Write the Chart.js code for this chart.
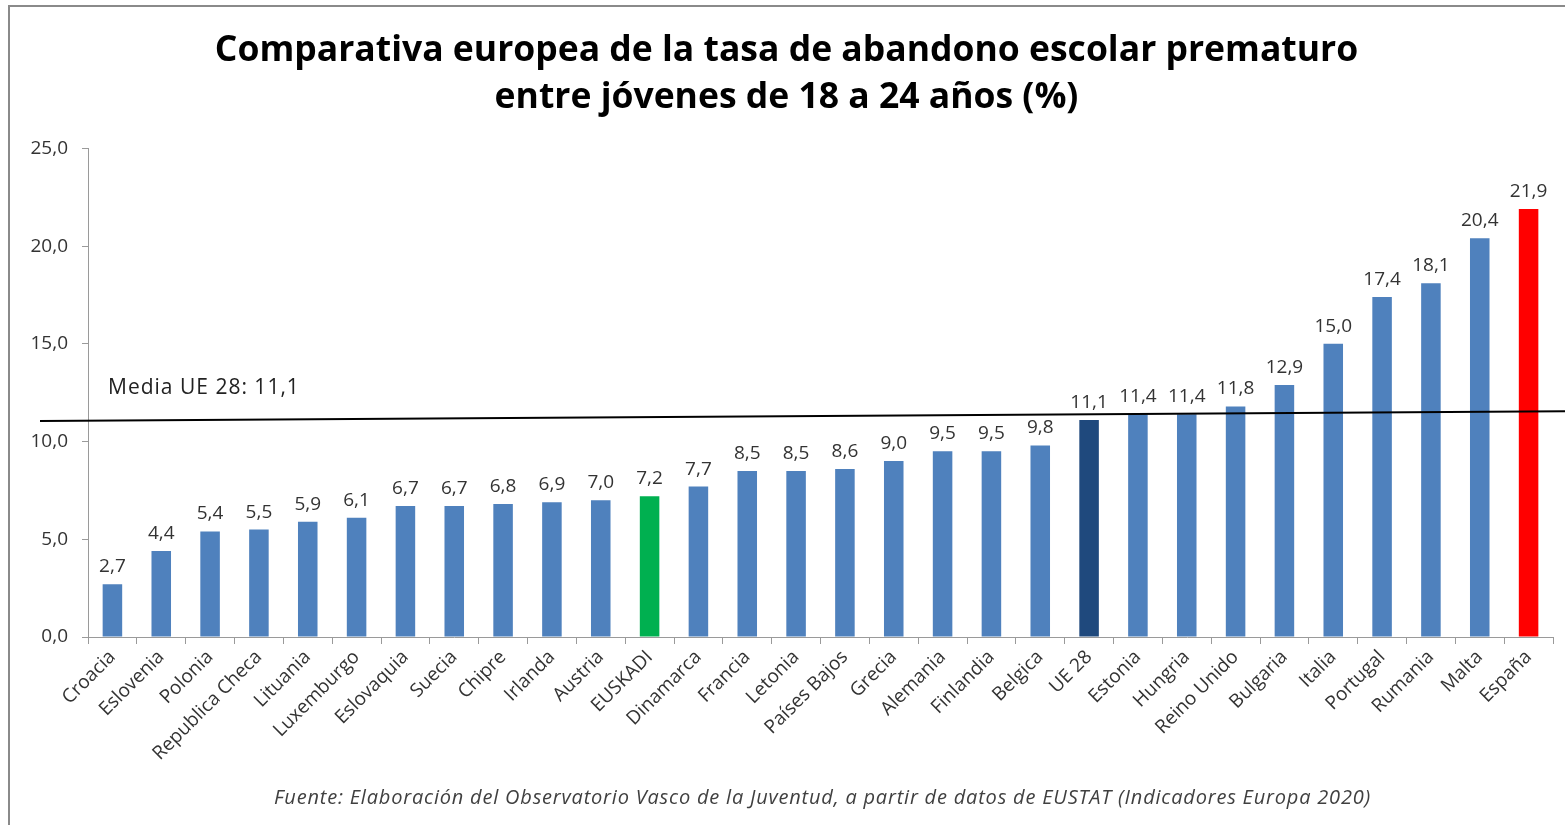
<!DOCTYPE html>
<html>
<head>
<meta charset="utf-8">
<script src="https://cdn.jsdelivr.net/npm/chart.js@4/dist/chart.umd.min.js"></script>
<style>
  body { margin: 0; background: #fff; overflow: hidden; }
  #marco { position: absolute; left: 8px; top: 5px; width: 1600px; height: 900px;
           border-top: 2px solid #8a8a8a; border-left: 2px solid #8a8a8a; pointer-events: none; }
  #wrap { position: absolute; left: 0; top: 0; width: 1565px; height: 825px; }
  #fuente { position: absolute; left: 0; width: 1645px; top: 783px; text-align: center;
            font-family: "Open Sans", sans-serif; font-style: italic; font-size: 20px;
            letter-spacing: 0.8px; color: #404040; }
</style>
</head>
<body>
<div id="marco"></div>
<div id="wrap"><canvas id="chart"></canvas></div>
<div id="fuente">Fuente: Elaboración del Observatorio Vasco de la Juventud, a partir de datos de EUSTAT (Indicadores Europa 2020)</div>
<script>
// datos
const paises = ['Croacia', 'Eslovenia', 'Polonia', 'Republica Checa', 'Lituania', 'Luxemburgo',
  'Eslovaquia', 'Suecia', 'Chipre', 'Irlanda', 'Austria', 'EUSKADI', 'Dinamarca', 'Francia',
  'Letonia', 'Países Bajos', 'Grecia', 'Alemania', 'Finlandia', 'Belgica', 'UE 28', 'Estonia',
  'Hungria', 'Reino Unido', 'Bulgaria', 'Italia', 'Portugal', 'Rumania', 'Malta', 'España'];
const tasas = [2.7, 4.4, 5.4, 5.5, 5.9, 6.1, 6.7, 6.7, 6.8, 6.9, 7.0, 7.2, 7.7, 8.5,
  8.5, 8.6, 9.0, 9.5, 9.5, 9.8, 11.1, 11.4, 11.4, 11.8, 12.9, 15.0, 17.4, 18.1, 20.4, 21.9];
const mediaUE = 11.1;
// la línea de la media está dibujada algo inclinada en el original (valor izq., valor dcha.)
const lineaMedia = [11.05, 11.55];
const ticksY = [0, 5, 10, 15, 20, 25];

// colores
const azul = '#4F81BD';
function colorBarra(p) {
  if (p === 'EUSKADI') return '#00B050';
  if (p === 'UE 28') return '#1F497D';
  if (p === 'España') return '#FF0000';
  return azul;
}
const fmt = v => v.toFixed(1).replace('.', ',');
const fuente = '"Open Sans", sans-serif';

// etiquetas encima de las barras + línea de la media
const extras = {
  id: 'extras',
  afterDatasetsDraw(chart) {
    const ctx = chart.ctx;
    const y = chart.scales.y;
    const meta = chart.getDatasetMeta(0);
    ctx.save();
    ctx.font = '19px ' + fuente;
    ctx.fillStyle = '#333';
    ctx.textAlign = 'center';
    ctx.textBaseline = 'alphabetic';
    meta.data.forEach((bar, i) => {
      ctx.fillText(fmt(tasas[i]), bar.x, bar.y - 12);
    });
    // línea media UE 28
    const x0 = 40, x1 = chart.width;
    ctx.strokeStyle = '#000';
    ctx.lineWidth = 2;
    ctx.beginPath();
    ctx.moveTo(x0, y.getPixelForValue(lineaMedia[0]));
    ctx.lineTo(x1, y.getPixelForValue(lineaMedia[1]));
    ctx.stroke();
    ctx.font = '21px ' + fuente;
    ctx.letterSpacing = '1px';
    ctx.fillStyle = '#222';
    ctx.textAlign = 'left';
    ctx.textBaseline = 'middle';
    ctx.fillText('Media UE 28: ' + fmt(mediaUE), chart.chartArea.left + 20, y.getPixelForValue(lineaMedia[0]) - 33);
    ctx.restore();
  }
};

new Chart(document.getElementById('chart'), {
  type: 'bar',
  data: {
    labels: paises,
    datasets: [{
      data: tasas,
      backgroundColor: paises.map(colorBarra),
      barPercentage: 0.4,
      categoryPercentage: 1.0
    }]
  },
  options: {
    responsive: true,
    maintainAspectRatio: false,
    animation: false,
    layout: { padding: { left: 20, right: 12, top: 0, bottom: 38 } },
    plugins: {
      legend: { display: false },
      tooltip: { enabled: false },
      title: {
        display: true,
        text: ['Comparativa europea de la tasa de abandono escolar prematuro', 'entre jóvenes de 18 a 24 años (%)'],
        font: { family: fuente, size: 35.5, weight: 'bold', lineHeight: 1.33 },
        color: '#000',
        padding: { top: 27, bottom: 27 }
      }
    },
    scales: {
      x: {
        grid: { offset: true, drawOnChartArea: false, drawTicks: true, tickLength: 7, color: '#9a9a9a' },
        border: { color: '#9a9a9a' },
        ticks: { color: '#333', font: { family: fuente, size: 19 }, minRotation: 45, maxRotation: 45, padding: 2 },
        afterFit(s) { s.height = 150; }
      },
      y: {
        min: 0, max: 25,
        afterBuildTicks(s) { s.ticks = ticksY.map(v => ({ value: v })); },
        grid: { drawOnChartArea: false, drawTicks: true, tickLength: 6, color: '#9a9a9a' },
        border: { color: '#9a9a9a' },
        ticks: { color: '#333', font: { family: fuente, size: 19 }, padding: 14, callback: v => fmt(v) },
        afterFit(s) { s.width = 68; }
      }
    }
  },
  plugins: [extras]
});
</script>
</body>
</html>
